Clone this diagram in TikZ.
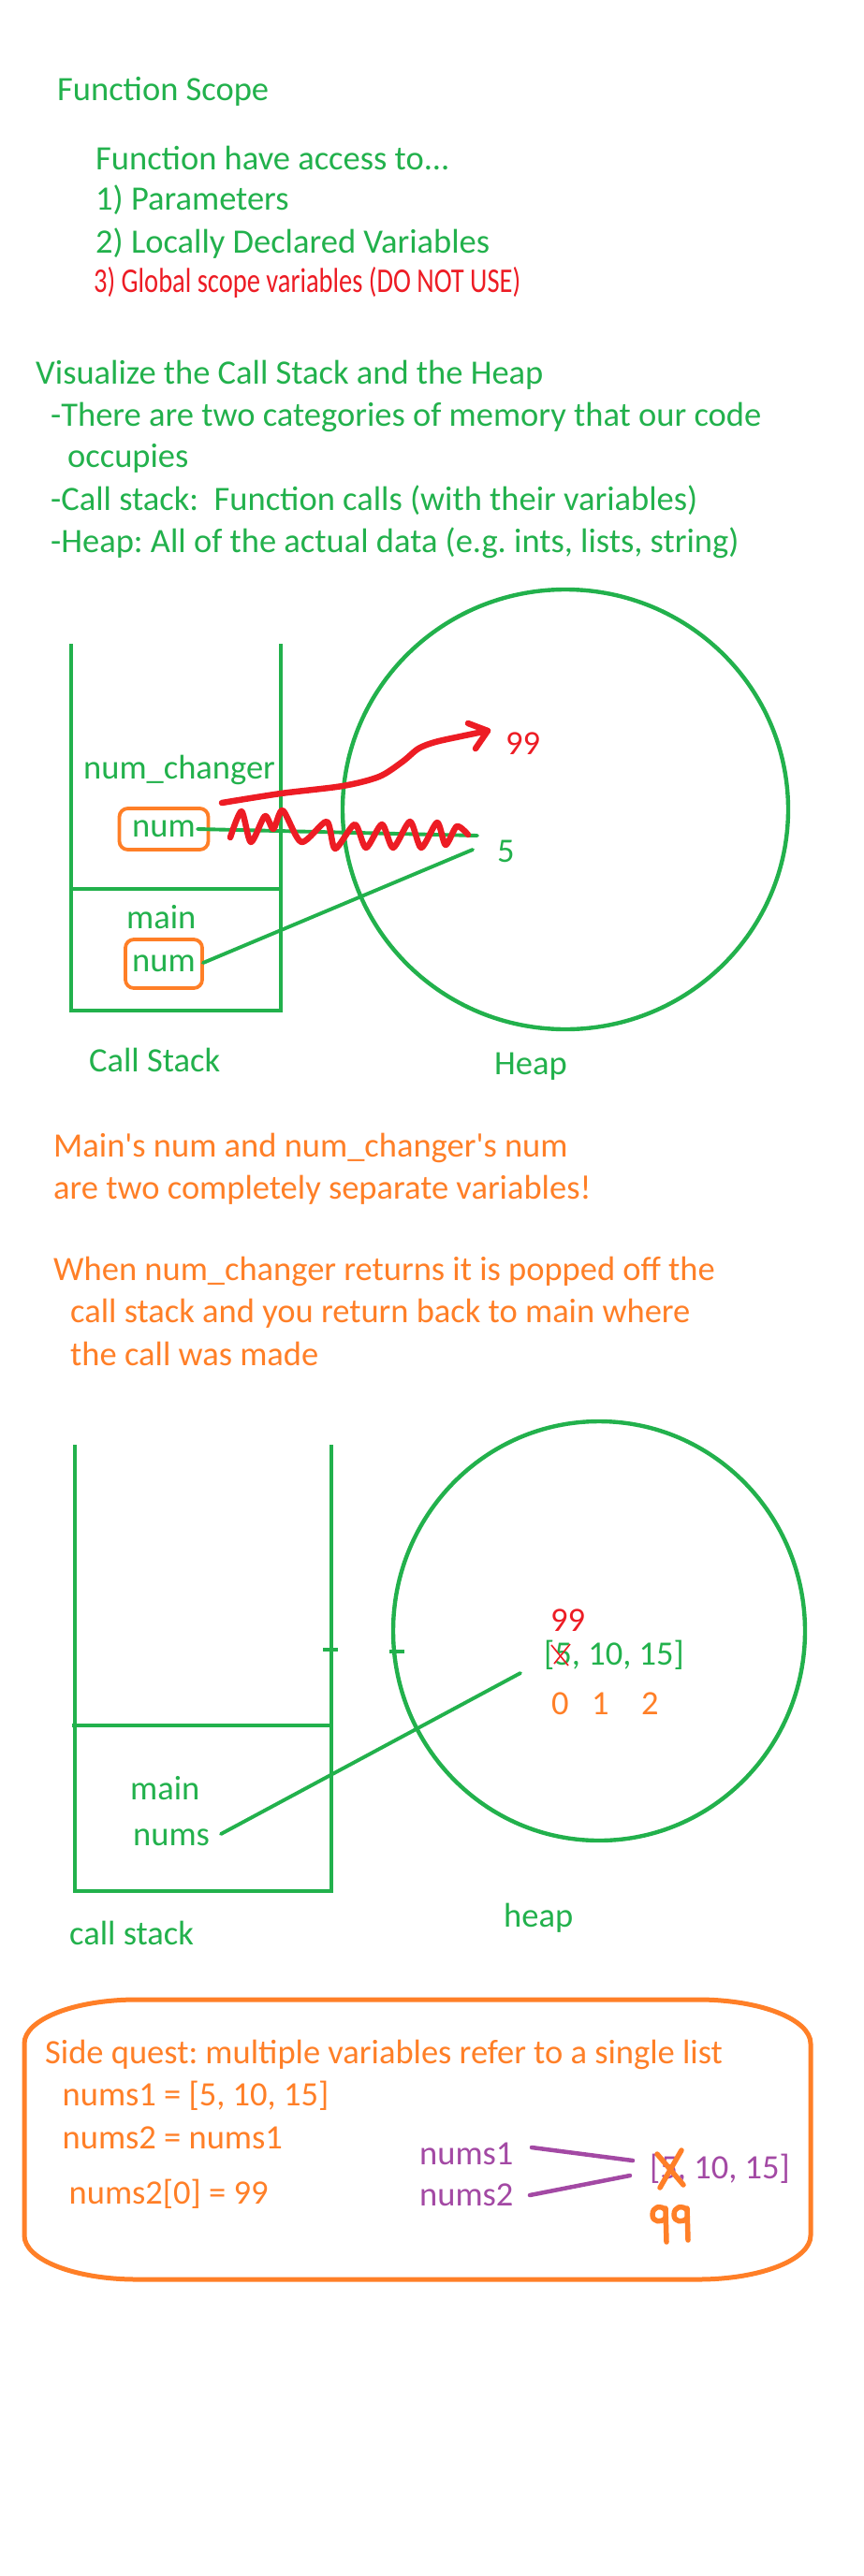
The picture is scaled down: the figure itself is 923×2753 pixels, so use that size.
\documentclass[tikz,border=0pt]{standalone}
\usepackage{fontspec}
\setmainfont{Carlito}[Ligatures=TeXOff]
\definecolor{pgreen}{HTML}{22B14C}
\definecolor{porange}{HTML}{FF7F27}
\definecolor{pred}{HTML}{ED1C24}
\definecolor{ppurple}{HTML}{A349A4}
\begin{document}
\begin{tikzpicture}[x=1pt,y=-1pt,
  txt/.style={anchor=base west, inner sep=0pt, font=\frenchspacing\fontsize{36.5}{44}\selectfont},
  gtxt/.style={txt, text=pgreen},
  otxt/.style={txt, text=porange},
  rtxt/.style={txt, text=pred},
  ptxt/.style={txt, text=ppurple},
  handtxt/.style={anchor=base west, inner sep=0pt, text=pred, font=\frenchspacing\fontsize{28.5}{34}\selectfont},
  gline/.style={draw=pgreen, line width=4.6pt},
  gring/.style={draw=pgreen, line width=4.4pt},
  gconn/.style={draw=pgreen, line width=3.9pt, line cap=round},
  numbox/.style={draw=porange, line width=3.8pt, rounded corners=9pt, text=pgreen, inner sep=0pt,
     font=\fontsize{36.5}{44}\selectfont},
  redink/.style={draw=pred, line width=6.5pt, line cap=round, line join=round},
  thinx/.style={draw=pred, line width=1.6pt},
  orink/.style={draw=porange, line width=5.5pt, line cap=round, line join=round},
  pconn/.style={draw=ppurple, line width=4.5pt, line cap=round},
  sidebox/.style={draw=porange, line width=5pt}
]
\fill[white] (0,0) rectangle (923,2753);
\useasboundingbox (0,0) rectangle (923,2753);

% ---------- top text ----------
\node[gtxt] (t1) at (61,108) {Function Scope};
\node[gtxt] (t2) at (102,182) {Function have access to...};
\node[gtxt] (t3) at (102,225) {1) Parameters};
\node[gtxt] (t4) at (102,271) {2) Locally Declared Variables};
\node[handtxt] (t5) at (100,313) {\scalebox{1}[1.3]{3) Global scope variables (DO NOT USE)}};
\node[gtxt] (t6) at (38,410) {Visualize the Call Stack and the Heap};
\node[gtxt] (t7) at (54,455) {-There are two categories of memory that our code};
\node[gtxt] (t8) at (72,499) {occupies};
\node[gtxt] (t9) at (54,545) {-Call stack:\ \ Function calls (with their variables)};
\node[gtxt] (t10) at (54,590) {-Heap: All of the actual data (e.g. ints, lists, string)};

% ---------- diagram 1 ----------
\draw[gline] (76,688) -- (76,1080) -- (300,1080) -- (300,688);
\draw[gline] (76,950) -- (300,950);
\draw[gring] (604,865) ellipse [x radius=238pt, y radius=235pt];

\node[gtxt] (nc) at (89,832) {num\_changer};
\node[numbox, minimum width=95pt, minimum height=44pt] (numA) at (175,886) {num};
\node[gtxt] (mainA) at (135,992) {main};
\node[numbox, minimum width=82pt, minimum height=52pt] (numB) at (175,1030) {num};
\node[gtxt] (five) at (531,921) {5};
\node[rtxt] (n99a) at (540,806) {99};
\node[gtxt] (cs1) at (95,1145) {Call Stack};
\node[gtxt] (heap1) at (528,1148) {Heap};

\coordinate (a1) at (211,886);
\coordinate (a2) at (510,893);
\coordinate (b1) at (217,1029);
\coordinate (b2) at (505,908);
\draw[gconn] (a1) -- (a2);
\draw[gconn] (b1) -- (b2);

% red scribble over the old link
\draw[redink] plot[smooth, tension=0.45] coordinates {
 (246,895) (258,867) (268,900) (283,872) (292,886) (302,866) (322,900) (349,878)
 (358,907) (379,881) (391,906) (408,881) (420,906) (438,878) (450,906) (467,879)
 (476,903) (488,883) (500,892)};
% red arrow to 99
\coordinate (r0) at (237,858);
\coordinate (rtip) at (521,781);
\draw[redink] plot[smooth, tension=0.5] coordinates {
 (237,858) (300,848) (366,840) (405,830) (430,814) (447,800) (465,793) (492,787) (521,781)};
\draw[redink] (500,773) -- (rtip) -- (508,800);

% ---------- middle text ----------
\node[otxt] (m1) at (57,1236) {Main's num and num\_changer's num};
\node[otxt] (m2) at (57,1281) {are two completely separate variables!};
\node[otxt] (m3) at (57,1368) {When num\_changer returns it is popped off the};
\node[otxt] (m4) at (75,1413) {call stack and you return back to main where};
\node[otxt] (m5) at (75,1459) {the call was made};

% ---------- diagram 2 ----------
\draw[gline] (80,1544) -- (80,2021) -- (354,2021) -- (354,1544);
\draw[gline] (77,1844) -- (354,1844);
\draw[gline] (345,1763) -- (361,1763);
\draw[gring] (640,1743) ellipse [x radius=220pt, y radius=224pt];
\draw[gline] (416,1765) -- (432,1765);

\node[gtxt] (mainC) at (139,1923) {main};
\node[gtxt] (nums) at (142,1972) {nums};
\node[rtxt] (n99b) at (588,1743) {99};
\node[gtxt] (lst) at (581,1779) {[5, 10, 15]};
\draw[thinx] (589,1758) -- (607,1780);
\draw[thinx] (609,1757) -- (592,1778);
\node[otxt] (i0) at (589,1832) {0};
\node[otxt] (i1) at (632,1832) {1};
\node[otxt] (i2) at (685,1832) {2};
\node[gtxt] (cs2) at (74,2078) {call stack};
\node[gtxt] (heap2) at (538,2059) {heap};

\coordinate (c1) at (236,1960);
\coordinate (c2) at (556,1788);
\draw[gconn] (c1) -- (c2);

% ---------- side quest ----------
\draw[sidebox] (146,2137) -- (746,2137)
  .. controls (812,2137) and (866,2158) .. (866,2184)
  -- (866,2389)
  .. controls (866,2415) and (812,2436) .. (746,2436)
  -- (146,2436)
  .. controls (80,2436) and (26,2415) .. (26,2389)
  -- (26,2184)
  .. controls (26,2158) and (80,2137) .. (146,2137) -- cycle;

\node[otxt] (s1) at (48,2205) {Side quest: multiple variables refer to a single list};
\node[otxt] (s2) at (66.5,2250) {nums1 = [5, 10, 15]};
\node[otxt] (s3) at (66.5,2296) {nums2 = nums1};
\node[otxt] (s4) at (73.5,2355) {nums2[0] = 99};

\node[ptxt] (p1) at (448,2313) {nums1};
\node[ptxt] (p2) at (448,2357) {nums2};
\node[ptxt] (plst) at (694,2328) {[5, 10, 15]};
\coordinate (q1a) at (568,2295);
\coordinate (q1b) at (676,2309);
\coordinate (q2a) at (566,2346);
\coordinate (q2b) at (673,2325);
\draw[pconn] (q1a) -- (q1b);
\draw[pconn] (q2a) -- (q2b);

\draw[orink] (702,2302) -- (730,2335);
\draw[orink] (728,2298) -- (705,2338);
% handwritten 99
\draw[orink] (711,2362) .. controls (706,2356) and (697,2358) .. (697,2367)
  .. controls (697,2375) and (707,2376) .. (711,2370);
\draw[orink] (711,2360) -- (712,2396);
\draw[orink] (734,2362) .. controls (729,2356) and (720,2358) .. (720,2367)
  .. controls (720,2375) and (730,2376) .. (734,2370);
\draw[orink] (734,2360) -- (735,2394);
\end{tikzpicture}
\end{document}
